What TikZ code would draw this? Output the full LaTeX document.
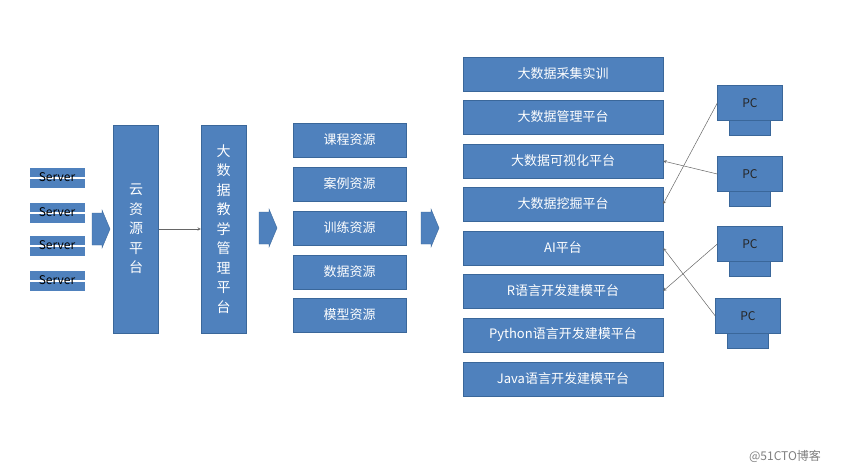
\documentclass[tikz,border=0pt]{standalone}
\usepackage{fontspec}
\setmainfont{Noto Sans CJK SC}
\definecolor{boxblue}{HTML}{4F81BD}
\definecolor{boxline}{HTML}{3A679A}
\tikzset{
  blk/.style={draw=boxline,fill=boxblue,text=white,inner sep=0pt,font=\fontsize{13}{15}\selectfont},
  tall/.style={blk,minimum width=45pt,minimum height=208pt,align=center,font=\fontsize{14}{19.5}\selectfont},
  pics/big/.style={code={
    \filldraw[draw=boxline,fill=boxblue] (-9,-16) -- (1,-16) -- (1,-19) -- (9,0) -- (1,19) -- (1,16) -- (-9,16) -- cycle;}},
  link/.style={->,>=stealth,draw=gray!80!black,line width=0.5pt}
}
\begin{document}
\begin{tikzpicture}[x=1pt,y=-1pt]
\useasboundingbox (0,0) rectangle (841,474);

% servers
\foreach \y [count=\i] in {178,213,246,281}{
  \fill[boxblue] (30,\y-10) rectangle (85,\y+10);
  \draw[white,line width=1.2pt] (30,\y) -- (85,\y);
  \node (s\i) at (57,\y-1) {\fontsize{12}{14}\selectfont Server};
}

\pic at (101,229) {big};
\node[tall] (cloud) at (136,229) {云\\资\\源\\平\\台};
\node[tall] (teach) at (223.5,229) {大\\数\\据\\教\\学\\管\\理\\平\\台};
\draw[link] (cloud) -- (teach);
\pic at (268,228) {big};

% resources
\foreach \y/\t [count=\i] in {140/课程资源,184/案例资源,228/训练资源,272/数据资源,315/模型资源}
  \node[blk,minimum width=113pt,minimum height=34pt] (r\i) at (349.5,\y) {\t};
\pic at (430,228) {big};

% platforms
\foreach \y/\t [count=\i] in {74/大数据采集实训,117/大数据管理平台,161/大数据可视化平台,204/大数据挖掘平台,248/AI平台,291/R语言开发建模平台,335/Python语言开发建模平台,379/Java语言开发建模平台}
  \node[blk,minimum width=200pt,minimum height=34pt] (p\i) at (563,\y) {\t};

% PCs
\foreach \x/\y [count=\i] in {750/103,750/174,750/244,748/316}{
  \node[draw=boxline,fill=boxblue,minimum width=41pt,minimum height=15pt,inner sep=0pt,anchor=north] (b\i) at (\x,\y+17) {};
  \node[draw=boxline,fill=boxblue,minimum width=65pt,minimum height=35pt,inner sep=0pt,text=black!85,font=\fontsize{12}{14}\selectfont] (pc\i) at (\x,\y) {PC};
}
\draw[link] (pc1.west) -- (p4.east);
\draw[link] (pc2.west) -- (p3.east);
\draw[link] (pc3.west) -- (p6.east);
\draw[link] (pc4.west) -- (p5.east);

\node[text=gray,font=\fontsize{12}{14}\selectfont] (wm) at (785,456) {@51CTO博客};
\end{tikzpicture}
\end{document}
